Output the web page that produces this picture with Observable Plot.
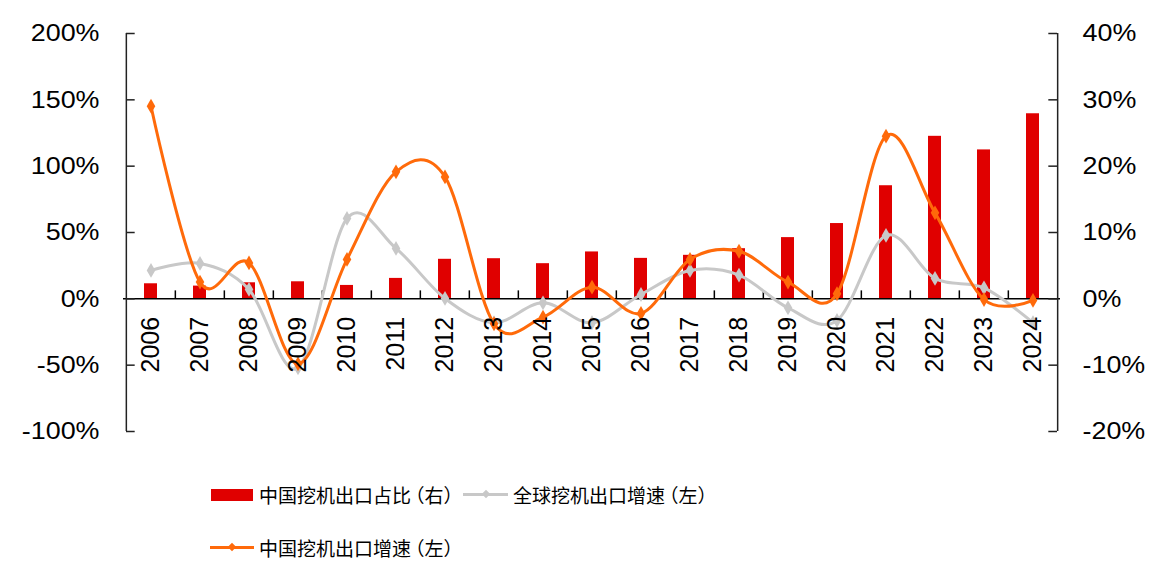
<!DOCTYPE html>
<html>
<head>
<meta charset="utf-8">
<script src="https://cdn.jsdelivr.net/npm/d3@7"></script>
<script src="https://cdn.jsdelivr.net/npm/@observablehq/plot@0.6"></script>
<style>
  html, body { margin: 0; padding: 0; background: #fff; }
  #wrap { position: relative; width: 1159px; height: 576px; font-family: "Liberation Sans", Arial, sans-serif; }
  .leg { position: absolute; font-family: "Noto Sans CJK SC", sans-serif; font-size: 19px; color: #000; line-height: 1; white-space: nowrap; font-feature-settings: "halt"; }
  .leg .op { margin-left: 4px; }
  .sw { position: absolute; }
</style>
</head>
<body>
<div id="wrap"></div>
<script>
// ---- data ----
const years = ["2006","2007","2008","2009","2010","2011","2012","2013","2014","2015","2016","2017","2018","2019","2020","2021","2022","2023","2024"];
// 中国挖机出口占比（右）, %
const chinaShare = [2.27, 1.92, 2.42, 2.57, 2.02, 3.08, 5.96, 6.05, 5.3, 7.07, 6.1, 6.56, 7.56, 9.23, 11.35, 17.05, 24.5, 22.45, 27.9];
// 中国挖机出口增速（左）, %
const chinaGrowth = [145.2, 12.6, 27.1, -49, 29.7, 95.7, 91.9, -18.8, -13.8, 8.8, -11, 29.7, 35.9, 12.6, 3.8, 122.6, 64.8, -0.5, -1.2];
// 全球挖机出口增速（左）, %
const globalGrowth = [21.4, 26.7, 7.1, -52, 60.6, 38, 0.3, -18, -3, -18, 3.3, 21.4, 17.9, -6.8, -16.3, 47.8, 15.4, 8.3, -18];

const leftTicks = [-100, -50, 0, 50, 100, 150, 200];
const rightTicks = [-20, -10, 0, 10, 20, 30, 40];
const seriesNames = ["中国挖机出口占比", "全球挖机出口增速", "中国挖机出口增速"];
const seriesAxes = ["右", "左", "左"];
const colors = { share: "#E00000", global: "#C8C8C8", china: "#FF6A0A" };

// ---- layout ----
const W = 1159, H = 460;
const mL = 123, mR = 99, mT = 33, mB = 29;
const step = (W - mL - mR) / years.length;
const ratio = leftTicks[leftTicks.length - 1] / rightTicks[rightTicks.length - 1]; // left/right scale factor

const shareData = years.map((y, i) => ({ year: y, v: chinaShare[i] * ratio }));
const chinaData = years.map((y, i) => ({ year: y, v: chinaGrowth[i] }));
const globalData = years.map((y, i) => ({ year: y, v: globalGrowth[i] }));

const fmt = v => (v < 0 ? "-" : "") + Math.abs(v) + "%";

const chart = Plot.plot({
  width: W, height: H,
  marginLeft: mL, marginRight: mR, marginTop: mT, marginBottom: mB,
  style: { fontFamily: "Liberation Sans, Arial, sans-serif", color: "#000", background: "#fff" },
  x: { type: "band", domain: years, padding: 0, axis: null },
  y: { domain: [leftTicks[0], leftTicks[leftTicks.length - 1]], axis: null },
  marks: [
    // bars (right axis)
    Plot.barY(shareData, { x: "year", y: "v", fill: colors.share, insetLeft: 18, insetRight: 18 }),
    // axes lines
    Plot.ruleY([0], { stroke: "#000", strokeWidth: 1.5 }),
    Plot.ruleX([years[0]], { x: d => d, dx: -step / 2, y1: leftTicks[0], y2: leftTicks[leftTicks.length - 1], stroke: "#222", strokeWidth: 1.5 }),
    Plot.ruleX([years[years.length - 1]], { x: d => d, dx: step / 2, y1: leftTicks[0], y2: leftTicks[leftTicks.length - 1], stroke: "#222", strokeWidth: 1.5 }),
    // inward ticks on left / right axes
    Plot.tickY(leftTicks, { y: d => d, x: () => years[0], insetRight: step - 9, stroke: "#222", strokeWidth: 1.5 }),
    Plot.tickY(rightTicks.map(v => v * ratio), { y: d => d, x: () => years[years.length - 1], insetLeft: step - 9, stroke: "#222", strokeWidth: 1.5 }),
    // category boundary ticks on x baseline
    Plot.ruleX(years.slice(1), { x: d => d, dx: -step / 2, y1: 0, y2: 6, stroke: "#000", strokeWidth: 1.5 }),
    // axis labels
    Plot.axisY(leftTicks, { anchor: "left", label: null, tickSize: 0, tickPadding: 24, fontSize: 24, tickFormat: fmt }),
    Plot.axisY(rightTicks.map(v => v * ratio), { anchor: "right", label: null, tickSize: 0, tickPadding: 22, fontSize: 24, tickFormat: v => fmt(v / ratio) }),
    // lines
    Plot.line(globalData, { x: "year", y: "v", stroke: colors.global, strokeWidth: 3, curve: "cardinal", tension: 0 }),
    Plot.dot(globalData, { x: "year", y: "v", fill: colors.global, symbol: "diamond", r: 4.5 }),
    Plot.line(chinaData, { x: "year", y: "v", stroke: colors.china, strokeWidth: 3, curve: "cardinal", tension: 0 }),
    Plot.dot(chinaData, { x: "year", y: "v", fill: colors.china, symbol: "diamond", r: 4.5 }),
    // year labels
    Plot.text(years, { x: d => d, y: () => 0, text: d => d, rotate: -90, textAnchor: "end", lineAnchor: "middle", dy: 18, fontSize: 25, fill: "#000" })
  ]
});

// widen the axis tick labels slightly, like the reference's stretched glyphs
chart.querySelectorAll('g[aria-label="y-axis tick label"] text').forEach(t => {
  const tr = t.getAttribute("transform");
  if (tr) t.setAttribute("transform", tr + " scale(1.12,1)");
});

const wrap = document.getElementById("wrap");
chart.style.position = "absolute";
chart.style.left = "0px";
chart.style.top = "0px";
wrap.appendChild(chart);

// legend (HTML, below the SVG)
function addSwatch(x, y, w, h, color) {
  const d = document.createElement("div");
  d.className = "sw";
  Object.assign(d.style, { left: x + "px", top: y + "px", width: w + "px", height: h + "px", background: color });
  wrap.appendChild(d);
}
function addDiamond(cx, cy, s, color) {
  const d = document.createElement("div");
  d.className = "sw";
  Object.assign(d.style, { left: (cx - s / 2) + "px", top: (cy - s / 2) + "px", width: s + "px", height: s + "px", background: color, transform: "rotate(45deg)" });
  wrap.appendChild(d);
}
function addText(x, cy, name, side) {
  const d = document.createElement("div");
  d.className = "leg";
  d.appendChild(document.createTextNode(name));
  const op = document.createElement("span");
  op.className = "op";
  op.textContent = "（";
  d.appendChild(op);
  d.appendChild(document.createTextNode(side + "）"));
  Object.assign(d.style, { left: x + "px", top: (cy - 10) + "px" });
  wrap.appendChild(d);
}
// row 1
addSwatch(211, 489, 42, 12, colors.share);
addText(259, 495, seriesNames[0], seriesAxes[0]);
addSwatch(463, 492.5, 45, 3, colors.global);
addDiamond(485.5, 494, 6, colors.global);
addText(513, 495, seriesNames[1], seriesAxes[1]);
// row 2
addSwatch(210, 545.5, 44, 3, colors.china);
addDiamond(232, 547, 6, colors.china);
addText(259, 548, seriesNames[2], seriesAxes[2]);
</script>
</body>
</html>
